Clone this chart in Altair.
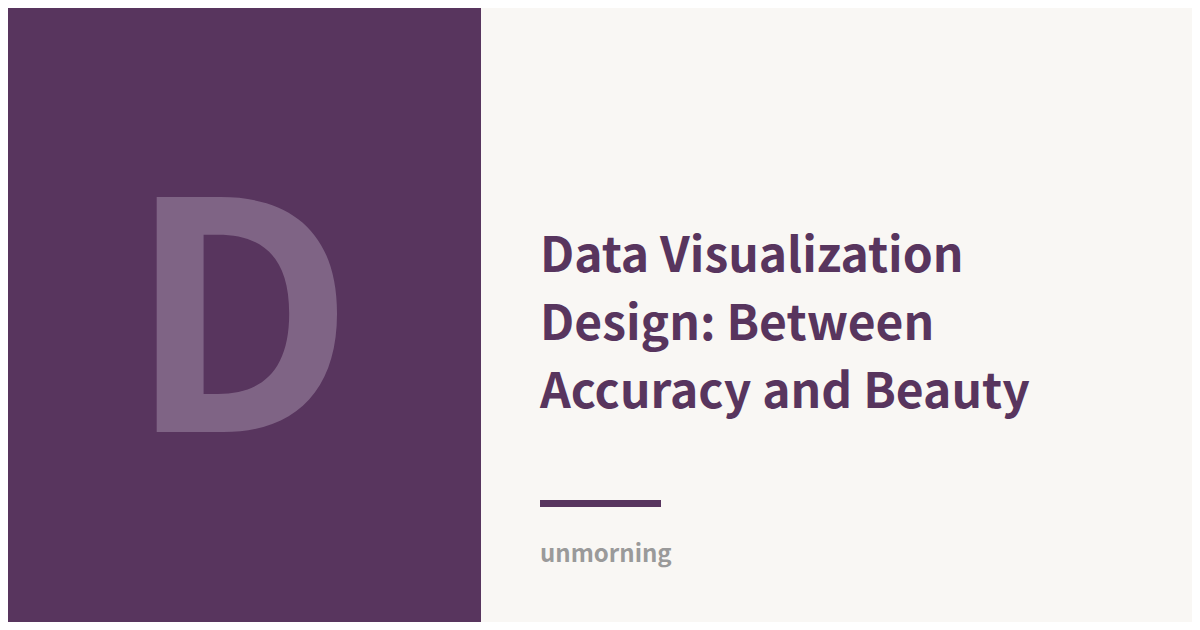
import altair as alt
import pandas as pd

# Content
initial = ["D"]
title_lines = ["Data Visualization", "Design: Between", "Accuracy and Beauty"]
author = ["unmorning"]

PURPLE = "#58355e"
LIGHT = "#7f6485"
BG = "#f9f7f4"
GREY = "#9a9a9a"
FONT = "Noto Sans CJK SC"

W, H = 1184, 614

one = pd.DataFrame({"k": [0]})
title_df = pd.DataFrame({"line": list(range(len(title_lines))), "text": title_lines})

panel = alt.Chart(one).mark_rect(color=PURPLE).encode(
    x=alt.value(0), x2=alt.value(473), y=alt.value(0), y2=alt.value(H)
)

big_letter = alt.Chart(pd.DataFrame({"t": initial})).mark_text(
    font=FONT, fontSize=317, fontWeight="bold", color=LIGHT,
    align="center", baseline="alphabetic"
).encode(x=alt.value(233), y=alt.value(424), text="t:N")

title = alt.Chart(title_df).mark_text(
    font=FONT, fontSize=48, fontWeight="bold", color=PURPLE,
    align="left", baseline="alphabetic"
).encode(
    x=alt.value(532),
    y=alt.Y("line:Q", scale=alt.Scale(domain=[0, 2], range=[264, 400]), axis=None),
    text="text:N",
)

rule = alt.Chart(one).mark_rect(color=PURPLE).encode(
    x=alt.value(532), x2=alt.value(653), y=alt.value(492), y2=alt.value(499)
)

byline = alt.Chart(pd.DataFrame({"t": author})).mark_text(
    font=FONT, fontSize=24, fontWeight="bold", color=GREY,
    align="left", baseline="alphabetic"
).encode(x=alt.value(532), y=alt.value(554), text="t:N")

chart = alt.layer(panel, big_letter, title, rule, byline).properties(
    width=W, height=H, padding=0, background=BG,
    autosize=alt.AutoSizeParams(type="fit", contains="padding"),
).configure_view(stroke=None)

chart.save("out.html", embed_options={"renderer": "svg", "actions": False})
